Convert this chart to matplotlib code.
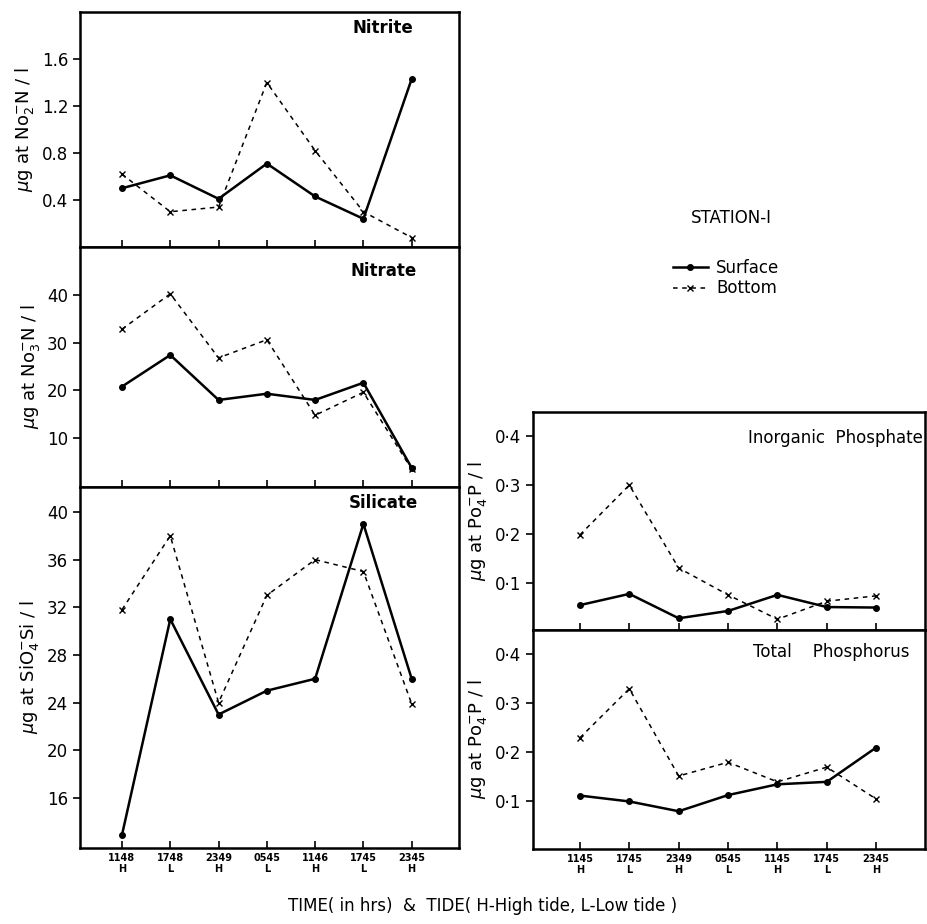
import matplotlib
matplotlib.use('Agg')
import matplotlib.pyplot as plt
import numpy as np

# sampling times / tide
times_left = ['1148', '1748', '2349', '0545', '1146', '1745', '2345']
times_right = ['1145', '1745', '2349', '0545', '1145', '1745', '2345']
tides = ['H', 'L', 'H', 'L', 'H', 'L', 'H']

# values
nitrite_surf = [0.50, 0.61, 0.41, 0.71, 0.43, 0.24, 1.43]
nitrite_bot = [0.62, 0.30, 0.34, 1.40, 0.82, 0.30, 0.08]
nitrate_surf = [20.8, 27.4, 18.0, 19.3, 18.0, 21.6, 3.8]
nitrate_bot = [32.8, 40.2, 26.8, 30.6, 14.8, 19.6, 3.5]
silicate_surf = [12.9, 31.0, 23.0, 25.0, 26.0, 39.0, 26.0]
silicate_bot = [31.8, 38.0, 24.0, 33.0, 36.0, 35.0, 23.9]
inorg_p_surf = [0.054, 0.077, 0.027, 0.042, 0.075, 0.050, 0.049]
inorg_p_bot = [0.198, 0.300, 0.130, 0.075, 0.025, 0.062, 0.073]
total_p_surf = [0.112, 0.100, 0.080, 0.113, 0.135, 0.140, 0.210]
total_p_bot = [0.230, 0.330, 0.152, 0.180, 0.140, 0.170, 0.105]

x = np.arange(7)

fig = plt.figure(figsize=(9.28, 9.24), dpi=100)


def draw(ax, surf, bot):
    ax.plot(x, surf, '-', color='black', lw=1.8, marker='o', ms=4, label='Surface')
    ax.plot(x, bot, '--', color='black', lw=1.1, dashes=(3, 3), marker='x', ms=4,
            mew=1.0, label='Bottom')
    ax.set_xticks(x)
    ax.tick_params(axis='x', direction='in', length=5, width=1.2)
    ax.tick_params(axis='y', direction='out', length=5, width=1.2, labelsize=12)
    for s in ax.spines.values():
        s.set_linewidth(1.8)


# left column
axN2 = fig.add_axes([0.0862, 0.7327, 0.4084, 0.2543])
axN3 = fig.add_axes([0.0862, 0.473, 0.4084, 0.2597])
axSi = fig.add_axes([0.0862, 0.0823, 0.4084, 0.3907])
# right column
axIP = fig.add_axes([0.5744, 0.3182, 0.4224, 0.236])
axTP = fig.add_axes([0.5744, 0.0812, 0.4224, 0.237])

draw(axN2, nitrite_surf, nitrite_bot)
axN2.set_ylim(0.0, 2.0)
axN2.set_yticks([0.4, 0.8, 1.2, 1.6])
axN2.set_yticklabels(['0.4', '0.8', '1.2', '1.6'])
axN2.set_ylabel(r'$\mu$g at No$_2^{-}$N / l', fontsize=13)

draw(axN3, nitrate_surf, nitrate_bot)
axN3.set_ylim(-0.2, 50)
axN3.set_yticks([10, 20, 30, 40])
axN3.set_ylabel(r'$\mu$g at No$_3^{-}$N / l', fontsize=13)

draw(axSi, silicate_surf, silicate_bot)
axSi.set_ylim(11.8, 42.1)
axSi.set_yticks([16, 20, 24, 28, 32, 36, 40])
axSi.set_ylabel(r'$\mu$g at SiO$_4^{-}$Si / l', fontsize=13)

for ax in (axN2, axN3, axSi):
    ax.set_xlim(-0.87, 6.98)
for ax in (axN2, axN3, axIP):
    ax.set_xticklabels([])

axSi.set_xticklabels([t + '\n' + h for t, h in zip(times_left, tides)],
                     fontsize=7, fontweight='bold')

draw(axIP, inorg_p_surf, inorg_p_bot)
draw(axTP, total_p_surf, total_p_bot)
for ax in (axIP, axTP):
    ax.set_xlim(-0.95, 6.99)
    ax.set_ylim(0.003, 0.45)
    ax.set_yticks([0.1, 0.2, 0.3, 0.4])
    ax.set_yticklabels(['0·1', '0·2', '0·3', '0·4'])
    ax.set_ylabel(r'$\mu$g at Po$_4^{-}$P / l', fontsize=13)
axTP.set_xticklabels([t + '\n' + h for t, h in zip(times_right, tides)],
                     fontsize=7, fontweight='bold')

# panel titles
axN2.text(0.8, 0.93, 'Nitrite', transform=axN2.transAxes, ha='center', va='center',
          fontsize=12, fontweight='bold')
axN3.text(0.8, 0.9, 'Nitrate', transform=axN3.transAxes, ha='center', va='center',
          fontsize=12, fontweight='bold')
axSi.text(0.8, 0.955, 'Silicate', transform=axSi.transAxes, ha='center', va='center',
          fontsize=12, fontweight='bold')
axIP.text(0.995, 0.88, 'Inorganic  Phosphate', transform=axIP.transAxes, ha='right',
          va='center', fontsize=12)
axTP.text(0.96, 0.9, 'Total    Phosphorus', transform=axTP.transAxes, ha='right',
          va='center', fontsize=12)

# station + legend
fig.text(0.788, 0.764, 'STATION-I', ha='center', va='center', fontsize=12)
handles, labels = axN2.get_legend_handles_labels()
fig.legend(handles, labels, loc='center left', bbox_to_anchor=(0.725, 0.699),
           frameon=False, fontsize=12, handlelength=2.1, handletextpad=0.5,
           labelspacing=0.15, borderaxespad=0, borderpad=0)

fig.text(0.52, 0.02, 'TIME( in hrs)  &  TIDE( H-High tide, L-Low tide )',
         ha='center', va='center', fontsize=12)

fig.savefig('out.png', dpi=100)
